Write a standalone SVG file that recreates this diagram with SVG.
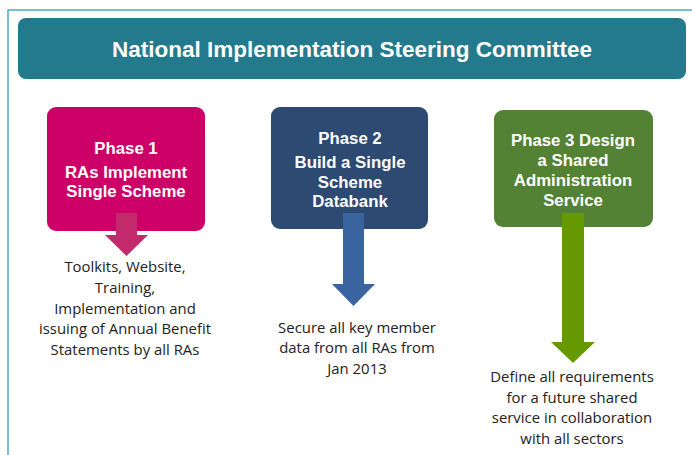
<svg xmlns="http://www.w3.org/2000/svg" width="692" height="455" viewBox="0 0 692 455">
<style>
.frame{fill:none;stroke:#4BACC6;stroke-width:1.5}
.hdr{font-family:"Liberation Sans",Arial,sans-serif;font-weight:bold;font-size:22.5px;fill:#fff;text-anchor:middle}
.bt{font-family:"Liberation Sans",Arial,sans-serif;font-weight:bold;font-size:16.8px;fill:#fff;text-anchor:middle}
.dt{font-family:"Open Sans","Liberation Sans",sans-serif;font-size:14.9px;fill:#222;text-anchor:middle}
</style>
<rect class="frame" x="8" y="10" width="700" height="460"/>
<g id="header">
<rect x="18" y="18" width="668" height="61" rx="8" fill="#237A8C"/>
<text class="hdr" x="352" y="57">National Implementation Steering Committee</text>
</g>
<g id="phase1">
<rect x="47" y="107" width="158" height="124" rx="9" fill="#CC0066"/>
<text class="bt" x="126" y="154">Phase 1</text>
<text class="bt" x="126" y="178">RAs Implement</text>
<text class="bt" x="126" y="197">Single Scheme</text>
</g>
<g id="phase2">
<rect x="271" y="107" width="157" height="122" rx="9" fill="#2C4A72"/>
<text class="bt" x="350" y="144">Phase 2</text>
<text class="bt" x="350" y="168">Build a Single</text>
<text class="bt" x="350" y="188">Scheme</text>
<text class="bt" x="350" y="207">Databank</text>
</g>
<g id="phase3">
<rect x="494" y="110" width="159" height="117" rx="9" fill="#548235"/>
<text class="bt" x="573" y="146">Phase 3 Design</text>
<text class="bt" x="573" y="166">a Shared</text>
<text class="bt" x="573" y="186">Administration</text>
<text class="bt" x="573" y="206">Service</text>
</g>
<g id="connectors">
<polygon points="116,213 137,213 137,235 148,235 126.5,256 105,235 116,235" fill="#C32A6C"/>
<polygon points="343,213 364,213 364,284 375,284 353.5,306 332,284 343,284" fill="#3A64A0"/>
<polygon points="562,213 584,213 584,342 595,342 573,363 551,342 562,342" fill="#669900"/>
</g>
<g id="desc1">
<text class="dt" x="125" y="272">Toolkits, Website,</text>
<text class="dt" x="125" y="293">Training,</text>
<text class="dt" x="125" y="314">Implementation and</text>
<text class="dt" x="125" y="334">issuing of Annual Benefit</text>
<text class="dt" x="125" y="355">Statements by all RAs</text>
</g>
<g id="desc2">
<text class="dt" x="357" y="333">Secure all key member</text>
<text class="dt" x="357" y="353">data from all RAs from</text>
<text class="dt" x="357" y="374">Jan 2013</text>
</g>
<g id="desc3">
<text class="dt" x="572" y="382">Define all requirements</text>
<text class="dt" x="572" y="403">for a future shared</text>
<text class="dt" x="572" y="423">service in collaboration</text>
<text class="dt" x="572" y="444">with all sectors</text>
</g>
</svg>
